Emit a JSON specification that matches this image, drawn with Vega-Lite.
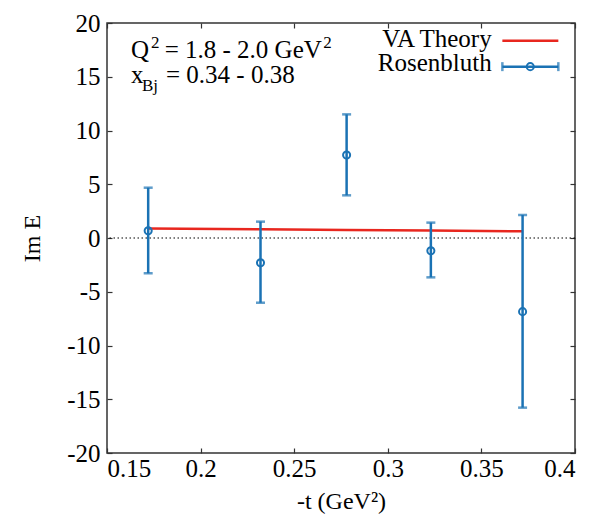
{
  "$schema": "https://vega.github.io/schema/vega-lite/v6.json",
  "width": 468,
  "height": 430,
  "autosize": {"type": "none"},
  "padding": {"left": 107, "top": 23, "right": 23, "bottom": 62},
  "background": "white",
  "config": {
    "font": "Liberation Serif",
    "view": {"stroke": "#333", "strokeWidth": 1.5},
    "axis": {
      "labelFont": "Liberation Serif", "labelFontSize": 25, "labelColor": "#000",
      "titleFont": "Liberation Serif", "titleFontSize": 24, "titleFontWeight": "normal", "titleColor": "#000",
      "domain": false, "grid": false, "tickColor": "#333", "tickWidth": 1.2, "tickSize": 5, "offset": -5
    }
  },
  "datasets": {
    "pts": [
      {"t": 0.172, "E": 0.68, "lo": -3.28, "hi": 4.68},
      {"t": 0.232, "E": -2.3, "lo": -6.02, "hi": 1.52},
      {"t": 0.278, "E": 7.72, "lo": 3.97, "hi": 11.5},
      {"t": 0.323, "E": -1.18, "lo": -3.66, "hi": 1.43},
      {"t": 0.372, "E": -6.85, "lo": -15.78, "hi": 2.14}
    ],
    "theory": [
      {"t": 0.172, "E": 0.88},
      {"t": 0.232, "E": 0.81},
      {"t": 0.278, "E": 0.75},
      {"t": 0.323, "E": 0.69},
      {"t": 0.372, "E": 0.62}
    ],
    "zero": [{"E": 0}],
    "legend": [
      {"series": "VA Theory", "tx": 0.3555, "ty": 17.8, "x1": 0.3612, "x2": 0.3911, "xm": 0.3761, "ly": 18.35},
      {"series": "Rosenbluth", "tx": 0.3555, "ty": 15.53, "x1": 0.3612, "x2": 0.3911, "xm": 0.3761, "ly": 15.94}
    ],
    "notes": [
      {"label": "Q", "t": 0.1628, "E": 16.74, "kind": "left"},
      {"label": "2", "t": 0.1735, "E": 17.67, "kind": "sup"},
      {"label": "= 1.8 - 2.0 GeV", "t": 0.1808, "E": 16.74, "kind": "left"},
      {"label": "2", "t": 0.2655, "E": 17.67, "kind": "sup"},
      {"label": "x", "t": 0.1628, "E": 14.42, "kind": "left"},
      {"label": "Bj", "t": 0.1687, "E": 13.67, "kind": "sub"},
      {"label": "= 0.34 - 0.38", "t": 0.1815, "E": 14.42, "kind": "left"}
    ]
  },
  "layer": [
    {
      "data": {"name": "zero"},
      "mark": {"type": "rule", "color": "#000", "strokeDash": [1.5, 2.5], "strokeWidth": 1.2},
      "encoding": {
        "y": {"field": "E", "type": "quantitative", "scale": {"domain": [-20, 20], "nice": false, "zero": false}, "axis": null}
      }
    },
    {
      "data": {"name": "theory"},
      "mark": {"type": "line", "color": "#e8271f", "strokeWidth": 2.5},
      "encoding": {
        "x": {"field": "t", "type": "quantitative", "scale": {"domain": [0.15, 0.4], "nice": false, "zero": false},
              "axis": {"orient": "top", "labels": false, "title": null, "values": [0.15, 0.2, 0.25, 0.3, 0.35, 0.4]}},
        "y": {"field": "E", "type": "quantitative", "scale": {"domain": [-20, 20], "nice": false, "zero": false},
              "axis": {"orient": "right", "labels": false, "title": null, "values": [-20, -15, -10, -5, 0, 5, 10, 15, 20]}}
      }
    },
    {
      "data": {"name": "pts"},
      "mark": {"type": "rule", "color": "#1a72b4", "strokeWidth": 2.5},
      "encoding": {
        "x": {"field": "t", "type": "quantitative",
              "axis": {"orient": "bottom", "title": "-t (GeV²)", "values": [0.15, 0.2, 0.25, 0.3, 0.35, 0.4], "format": "~g", "labelPadding": 3, "titlePadding": 8}},
        "y": {"field": "lo", "type": "quantitative",
              "axis": {"orient": "left", "title": "Im E", "values": [-20, -15, -10, -5, 0, 5, 10, 15, 20], "labelExpr": "replace(datum.label, '−', '-')", "labelPadding": 7, "titlePadding": 22}},
        "y2": {"field": "hi"}
      }
    },
    {
      "data": {"name": "pts"},
      "mark": {"type": "tick", "orient": "horizontal", "color": "#1a72b4", "size": 9, "thickness": 2.5},
      "encoding": {
        "x": {"field": "t", "type": "quantitative", "axis": null},
        "y": {"field": "lo", "type": "quantitative", "axis": null}
      }
    },
    {
      "data": {"name": "pts"},
      "mark": {"type": "tick", "orient": "horizontal", "color": "#1a72b4", "size": 9, "thickness": 2.5},
      "encoding": {
        "x": {"field": "t", "type": "quantitative", "axis": null},
        "y": {"field": "hi", "type": "quantitative", "axis": null}
      }
    },
    {
      "data": {"name": "pts"},
      "mark": {"type": "point", "shape": "circle", "filled": false, "color": "#1a72b4", "size": 50, "strokeWidth": 2, "opacity": 1},
      "encoding": {
        "x": {"field": "t", "type": "quantitative", "axis": null},
        "y": {"field": "E", "type": "quantitative", "axis": null}
      }
    },
    {
      "data": {"name": "notes"},
      "transform": [{"filter": "datum.kind == 'left'"}],
      "mark": {"type": "text", "align": "left", "baseline": "alphabetic", "fontSize": 25, "font": "Liberation Serif", "color": "#000"},
      "encoding": {
        "x": {"field": "t", "type": "quantitative", "axis": null},
        "y": {"field": "E", "type": "quantitative", "axis": null},
        "text": {"field": "label"}
      }
    },
    {
      "data": {"name": "notes"},
      "transform": [{"filter": "datum.kind == 'sup' || datum.kind == 'sub'"}],
      "mark": {"type": "text", "align": "left", "baseline": "alphabetic", "fontSize": 17, "font": "Liberation Serif", "color": "#000"},
      "encoding": {
        "x": {"field": "t", "type": "quantitative", "axis": null},
        "y": {"field": "E", "type": "quantitative", "axis": null},
        "text": {"field": "label"}
      }
    },
    {
      "data": {"name": "legend"},
      "mark": {"type": "text", "align": "right", "baseline": "alphabetic", "fontSize": 25, "font": "Liberation Serif", "color": "#000"},
      "encoding": {
        "x": {"field": "tx", "type": "quantitative", "axis": null},
        "y": {"field": "ty", "type": "quantitative", "axis": null},
        "text": {"field": "series"}
      }
    },
    {
      "data": {"name": "legend"},
      "mark": {"type": "rule", "strokeWidth": 2.5},
      "encoding": {
        "x": {"field": "x1", "type": "quantitative", "axis": null},
        "x2": {"field": "x2"},
        "y": {"field": "ly", "type": "quantitative", "axis": null},
        "color": {"field": "series", "type": "nominal", "scale": {"domain": ["VA Theory", "Rosenbluth"], "range": ["#e8271f", "#1a72b4"]}, "legend": null}
      }
    },
    {
      "data": {"name": "legend"},
      "transform": [{"filter": "datum.series == 'Rosenbluth'"}, {"fold": ["x1", "x2"], "as": ["end", "xe"]}],
      "mark": {"type": "tick", "orient": "vertical", "color": "#1a72b4", "size": 9, "thickness": 2.5},
      "encoding": {
        "x": {"field": "xe", "type": "quantitative", "axis": null},
        "y": {"field": "ly", "type": "quantitative", "axis": null}
      }
    },
    {
      "data": {"name": "legend"},
      "transform": [{"filter": "datum.series == 'Rosenbluth'"}],
      "mark": {"type": "point", "shape": "circle", "filled": false, "color": "#1a72b4", "size": 50, "strokeWidth": 2, "opacity": 1},
      "encoding": {
        "x": {"field": "xm", "type": "quantitative", "axis": null},
        "y": {"field": "ly", "type": "quantitative", "axis": null}
      }
    }
  ],
  "resolve": {"axis": {"x": "independent", "y": "independent"}}
}
